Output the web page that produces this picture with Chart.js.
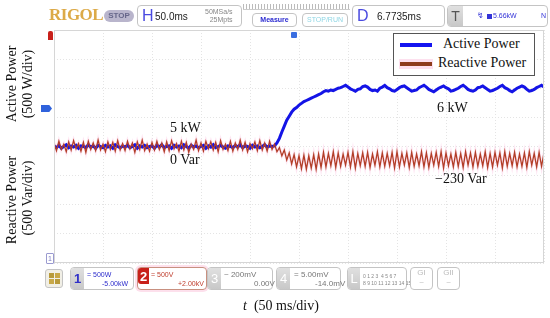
<!DOCTYPE html>
<html>
<head>
<meta charset="utf-8">
<script src="https://cdn.jsdelivr.net/npm/chart.js@4/dist/chart.umd.min.js"></script>
<style>
  body { margin: 0; background: #fff; }
  #wrap { position: relative; width: 550px; height: 318px; overflow: hidden; font-family: "Liberation Sans", Arial, sans-serif; }
  #scope { position: absolute; left: 0; top: 0; }
  .abs { position: absolute; white-space: nowrap; }
  .serif { font-family: "Liberation Serif", "Times New Roman", serif; font-size: 14px; color: #111; }
  .vlab { position: absolute; transform: translate(-50%, -50%) rotate(-90deg); white-space: nowrap; }
  .box { position: absolute; border: 1px solid #c4c4c4; border-radius: 4px; background: #fff; box-sizing: border-box; }
  .tab { position: absolute; top: 0; bottom: 0; left: 0; background: linear-gradient(#e0e0e0, #c8c8c8); border-radius: 3px 0 0 3px; color: #fff; font-size: 13px; text-align: center; }
  .small { font-size: 7px; line-height: 8px; }
</style>
</head>
<body>
<div id="wrap">
  <canvas id="scope" width="550" height="318"></canvas>

  <!-- plot frame -->
  <div class="abs" style="left:54px;top:30px;width:490px;height:233px;border:1px solid #d6d6d6;box-sizing:border-box;"></div>

  <!-- top bar -->
  <div class="abs" style="left:49px;top:5px;font-family:'Liberation Serif',serif;font-weight:bold;font-size:17px;color:#dcaa48;letter-spacing:-0.5px;">RIGOL</div>
  <div class="abs" style="left:104px;top:10px;width:30px;height:12px;border-radius:6px;background:#b9b5cc;color:#66668a;font-size:8px;font-weight:bold;text-align:center;line-height:12px;">STOP</div>
  <div class="box" style="left:137px;top:5px;width:105px;height:22px;">
    <div class="abs" style="left:4px;top:1px;font-size:16px;color:#4a4ae0;">H</div>
    <div class="abs" style="left:17px;top:5px;font-size:10px;color:#222;">50.0ms</div>
    <div class="abs small" style="left:67px;top:2px;color:#888;text-align:right;">50MSa/s<br>&nbsp;&nbsp;25Mpts</div>
  </div>
  <div class="abs" style="left:243px;top:4px;width:107px;height:5px;background:repeating-linear-gradient(90deg,#bbb 0 1px,#fff 1px 3px);border-bottom:1px solid #ccc;"></div>
  <div class="box" style="left:252px;top:13px;width:45px;height:14px;text-align:center;font-size:7px;line-height:12px;font-weight:bold;color:#2a2ad0;">Measure</div>
  <div class="box" style="left:302px;top:13px;width:46px;height:14px;text-align:center;font-size:7px;line-height:12px;color:#8fd6e4;">STOP/RUN</div>
  <div class="box" style="left:352px;top:5px;width:93px;height:22px;">
    <div class="abs" style="left:4px;top:1px;font-size:16px;color:#4a4ae0;">D</div>
    <div class="abs" style="left:24px;top:5px;font-size:10px;color:#222;">6.7735ms</div>
  </div>
  <div class="box" style="left:447px;top:5px;width:101px;height:22px;">
    <div class="tab" style="width:15px;color:#555;font-size:14px;line-height:20px;">T</div>
    <div class="abs" style="left:29px;top:5px;font-size:8px;color:#3434d8;">&#x21AF;</div>
    <div class="abs" style="left:39px;top:8px;width:5px;height:5px;background:#3434d8;"></div>
    <div class="abs" style="left:45px;top:6px;font-size:7px;color:#3434d8;">5.66kW</div>
    <div class="abs" style="left:93px;top:6px;font-size:7px;color:#3434d8;">N</div>
  </div>

  <!-- plot markers -->
  <div class="abs" style="left:48px;top:31px;width:5px;height:9px;background:#c8201a;border-radius:2px 2px 0 0;"></div>
  <div class="abs" style="left:291px;top:32px;width:6px;height:6px;background:#3a6ee0;border-radius:1px;"></div>
  <div class="abs" style="left:41px;top:105px;width:11px;height:7px;background:#2f62dc;clip-path:polygon(0 0,75% 0,100% 50%,75% 100%,0 100%);"></div>
  <div class="abs" style="left:46px;top:253px;width:6px;height:9px;border:1px solid #9a9ad0;border-radius:1px;font-size:7px;line-height:9px;color:#7a7ac0;text-align:center;">1</div>

  <!-- axis labels -->
  <div class="vlab serif" style="left:12px;top:84px;">Active Power</div>
  <div class="vlab serif" style="left:28px;top:84px;">(500 W/div)</div>
  <div class="vlab serif" style="left:12px;top:200px;">Reactive Power</div>
  <div class="vlab serif" style="left:28px;top:198px;">(500 Var/div)</div>
  <div class="abs serif" style="left:243px;top:298px;"><i>t</i>&nbsp; (50 ms/div)</div>

  <!-- annotations -->
  <div class="abs serif" style="left:170px;top:120px;">5 kW</div>
  <div class="abs serif" style="left:170px;top:152px;">0 Var</div>
  <div class="abs serif" style="left:437px;top:100px;">6 kW</div>
  <div class="abs serif" style="left:435px;top:171px;">&minus;230 Var</div>

  <!-- legend -->
  <div class="abs" style="left:393px;top:33px;width:142px;height:43px;border:1px solid #555;background:#fff;box-sizing:border-box;"></div>
  <div class="abs" style="left:400px;top:43px;width:32px;height:4px;background:#1414f0;"></div>
  <div class="abs" style="left:399px;top:59px;width:34px;height:10px;background:#fde0ee;"></div>
  <div class="abs" style="left:400px;top:62px;width:32px;height:4px;background:#8e3c1c;"></div>
  <div class="abs serif" style="left:443px;top:36px;">Active Power</div>
  <div class="abs serif" style="left:438px;top:55px;">Reactive Power</div>

  <!-- bottom bar -->
  <div class="box" style="left:45px;top:269px;width:18px;height:19px;border-radius:3px;background:#f1efe6;">
    <div class="abs" style="left:3px;top:3px;width:5px;height:5px;background:#b89a3a;"></div>
    <div class="abs" style="left:9px;top:3px;width:5px;height:5px;background:#c8a848;"></div>
    <div class="abs" style="left:3px;top:9px;width:5px;height:5px;background:#c8a848;"></div>
    <div class="abs" style="left:9px;top:9px;width:5px;height:5px;background:#b89a3a;"></div>
  </div>
  <div class="box" style="left:70px;top:267px;width:64px;height:23px;">
    <div class="tab" style="width:13px;color:#3030c8;line-height:21px;font-weight:bold;">1</div>
    <div class="abs small" style="left:16px;top:3px;color:#2c2ccc;">= 500W</div>
    <div class="abs small" style="left:31px;top:12px;color:#2c2ccc;">-5.00kW</div>
  </div>
  <div class="box" style="left:137px;top:267px;width:70px;height:23px;border-color:#c89080;box-shadow:0 0 0 2px #fde0ec;">
    <div class="tab" style="width:11px;background:#c8201a;line-height:18px;font-weight:bold;height:16px;">2</div>
    <div class="abs small" style="left:13px;top:3px;color:#c04030;">= 500V</div>
    <div class="abs small" style="left:40px;top:12px;color:#c04030;">+2.00kV</div>
  </div>
  <div class="box" style="left:207px;top:267px;width:66px;height:23px;">
    <div class="tab" style="width:13px;line-height:21px;">3</div>
    <div class="abs" style="left:16px;top:2px;font-size:8px;color:#777;">~ 200mV</div>
    <div class="abs" style="left:46px;top:11px;font-size:8px;color:#777;">0.00V</div>
  </div>
  <div class="box" style="left:276px;top:267px;width:65px;height:23px;">
    <div class="tab" style="width:13px;line-height:21px;">4</div>
    <div class="abs" style="left:17px;top:2px;font-size:8px;color:#777;">= 5.00mV</div>
    <div class="abs" style="left:38px;top:11px;font-size:8px;color:#777;">-14.0mV</div>
  </div>
  <div class="box" style="left:347px;top:267px;width:60px;height:23px;">
    <div class="tab" style="width:12px;line-height:21px;">L</div>
    <div class="abs" style="left:15px;top:5px;font-size:5px;line-height:7px;color:#888;">0 1 2 3 &nbsp;4 5 6 7<br>8 9 10 11 12 13 14 15</div>
  </div>
  <div class="box" style="left:410px;top:267px;width:23px;height:23px;text-align:center;font-size:8px;color:#bbb;line-height:10px;">GI<br>~</div>
  <div class="box" style="left:437px;top:267px;width:23px;height:23px;text-align:center;font-size:8px;color:#bbb;line-height:10px;">GII<br>~</div>
</div>

<script>
// sample spacing of the scope trace: 2.5 ms, 201 samples over 10 div x 50 ms
var tMs = Array.from({length: 201}, function (_, i) { return i * 2.5; });

// active power, kW (channel 1, 500 W/div)
var activeKW = [
  5.01,4.98,5.02,4.97,5.00,5.03,4.98,5.01,4.99,5.02,
  4.97,5.01,5.00,4.98,5.03,4.99,5.01,4.97,5.02,5.00,
  4.98,5.02,4.99,5.01,4.97,5.03,5.00,4.98,5.01,4.99,
  5.02,4.98,5.00,5.03,4.97,5.01,4.99,5.02,4.98,5.00,
  5.01,4.97,5.02,4.99,5.03,4.98,5.00,5.01,4.97,5.02,
  4.99,5.01,4.98,5.03,5.00,4.97,5.02,4.99,5.01,4.98,
  5.00,5.02,4.97,5.01,4.99,5.03,4.98,5.00,5.02,4.99,
  4.97,5.01,5.00,4.98,5.02,4.99,5.03,4.98,5.01,5.00,
  4.97,5.02,4.99,5.01,4.98,5.00,5.03,4.99,5.01,5.00,
  // step at ~225 ms
  5.01,5.06,5.14,5.25,5.35,5.45,5.52,5.59,5.64,5.67,
  5.71,5.74,5.77,5.79,5.81,5.83,5.85,5.87,5.89,5.91,
  5.94,5.96,5.95,5.97,5.96,5.98,6.00,
  6.01,6.03,6.05,6.02,5.99,5.97,5.95,5.98,5.99,6.03,
  6.04,6.02,5.98,5.96,5.97,5.95,6.00,6.02,6.05,6.01,
  5.99,5.96,5.95,5.98,6.01,6.03,6.04,6.01,5.98,5.95,
  5.96,5.97,6.01,6.03,6.05,6.02,5.98,5.96,5.94,5.97,
  6.00,6.02,6.04,6.01,5.99,5.95,5.96,5.98,6.00,6.03,
  6.05,6.02,5.98,5.96,5.95,5.97,6.01,6.02,6.04,6.01,
  5.98,5.95,5.96,5.98,6.00,6.03,6.05,6.01,5.99,5.96,
  5.94,5.97,6.00,6.02,6.04,6.02,5.98,5.95,5.96,5.98,
  6.01,6.03,6.05,6.02
];

// reactive power, Var (channel 2, 500 Var/div)
var reactiveVar = [
  60,-70,90,-50,40,-90,80,-60,100,-40,
  50,-80,70,-100,90,-50,60,-70,110,-60,
  40,-90,80,-50,70,-80,100,-60,50,-70,
  90,-40,60,-100,80,-50,110,-70,40,-80,
  70,-60,90,-50,60,-90,80,-70,100,-40,
  50,-80,90,-60,70,-100,40,-50,110,-70,
  60,-80,90,-40,80,-60,70,-90,100,-50,
  40,-70,90,-80,60,-50,110,-60,70,-90,
  50,-40,80,-70,100,-60,60,-80,90,-50,
  // step at ~225 ms
  40,-90,-20,-160,-60,-230,-110,-300,-140,-350,
  -160,-380,-150,-390,-160,-370,-140,-390,-130,-360,
  -100,-350,-120,-330,-90,-360,-110,-340,-130,-320,
  -100,-350,-90,-370,-120,-330,-110,-340,-100,-360,
  -130,-320,-90,-350,-110,-340,-120,-330,-100,-370,
  -90,-350,-120,-320,-110,-360,-100,-340,-130,-330,
  -90,-350,-110,-360,-120,-320,-100,-340,-90,-370,
  -110,-330,-130,-350,-100,-340,-120,-360,-90,-320,
  -110,-350,-100,-340,-130,-330,-90,-360,-120,-350,
  -100,-320,-110,-370,-90,-340,-120,-330,-100,-350,
  -130,-340,-110,-360,-90,-320,-120,-350,-100,-340,
  -110
];

var pts = function (arr) {
  return arr.map(function (v, i) { return {x: tMs[i], y: v}; });
};

var ctx = document.getElementById('scope').getContext('2d');

var scopeChart = new Chart(ctx, {
  type: 'line',
  data: {
    datasets: [{
      label: 'Active Power',
      data: pts(activeKW),
      yAxisID: 'yP',
      borderColor: '#1414e6',
      borderWidth: 3,
      pointRadius: 0,
      order: 2
    }, {
      label: 'Reactive Power',
      data: pts(reactiveVar),
      yAxisID: 'yQ',
      borderColor: '#b23e28',
      borderWidth: 1.3,
      pointRadius: 0,
      order: 1
    }, {
      // pinkish glow round the red trace
      label: 'halo',
      data: pts(reactiveVar),
      yAxisID: 'yQ',
      borderColor: 'rgba(252, 200, 228, 0.45)',
      borderWidth: 3,
      pointRadius: 0,
      order: 3
    }]
  },
  options: {
    responsive: false,
    animation: false,
    events: [],
    layout: { padding: { left: 54, top: 30, right: 6, bottom: 55 } },
    plugins: { legend: { display: false }, tooltip: { enabled: false } },
    scales: {
      x: {
        type: 'linear', min: 0, max: 500,
        ticks: { display: false, stepSize: 50 },
        grid: { color: '#e4e4e4', drawTicks: false },
        border: { display: false, dash: [1, 2] }
      },
      yP: {
        position: 'left', min: 3, max: 7,
        ticks: { display: false, stepSize: 0.5 },
        grid: { color: '#e4e4e4', drawTicks: false },
        border: { display: false, dash: [1, 2] }
      },
      yQ: {
        display: false, min: -2000, max: 2000
      }
    }
  }
});
</script>
</body>
</html>
